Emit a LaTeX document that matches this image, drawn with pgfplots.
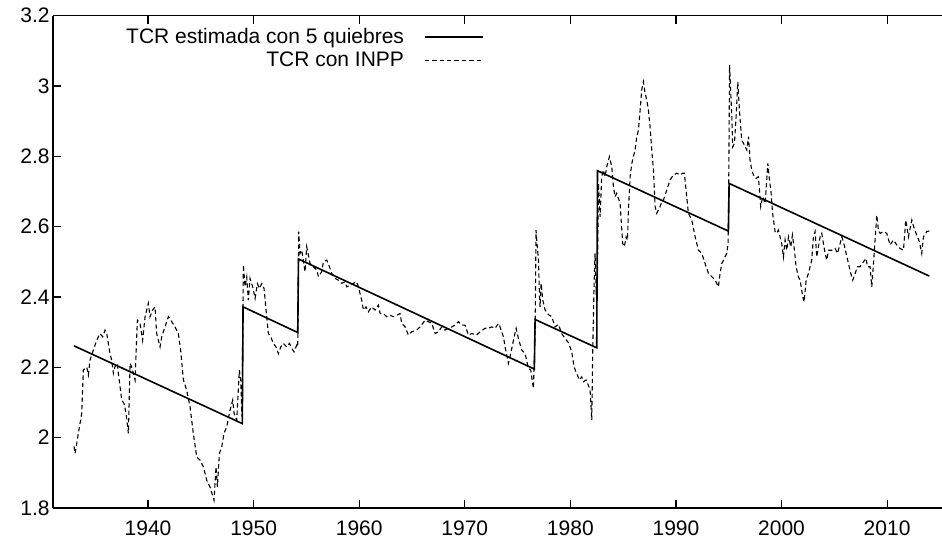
\documentclass[border=0pt]{standalone}
\usepackage{fontspec}
\setmainfont{Liberation Sans}
\usepackage{pgfplots}
\usepackage{pgfplotstable}
\pgfplotsset{compat=1.18}
\pgfplotstableread{
x y
1933.00 2.261
1948.93 2.040
1949.00 2.372
1954.18 2.299
1954.25 2.508
1976.59 2.195
1976.66 2.336
1982.50 2.2555
1982.57 2.759
1994.97 2.5875
1995.04 2.723
2014.00 2.4595
}\quiebres
\pgfplotstableread{
x y
1933.00 1.975
1933.08 1.955
1933.15 1.965
1933.40 2.012
1933.72 2.069
1933.87 2.192
1934.19 2.201
1934.35 2.178
1934.51 2.221
1934.82 2.249
1935.14 2.277
1935.45 2.296
1935.71 2.287
1935.93 2.306
1936.09 2.296
1936.40 2.239
1936.56 2.220
1936.72 2.183
1936.87 2.202
1937.10 2.211
1937.19 2.183
1937.35 2.145
1937.51 2.107
1937.73 2.097
1937.92 2.069
1938.14 2.012
1938.30 2.211
1938.45 2.201
1938.77 2.164
1938.99 2.334
1939.24 2.325
1939.49 2.277
1939.72 2.344
1940.03 2.382
1940.19 2.344
1940.44 2.363
1940.66 2.372
1940.82 2.296
1940.98 2.277
1941.14 2.258
1941.30 2.287
1941.61 2.315
1941.93 2.344
1942.24 2.330
1942.56 2.315
1942.87 2.296
1943.09 2.249
1943.35 2.164
1943.66 2.135
1943.98 2.088
1944.29 2.012
1944.61 1.945
1944.93 1.936
1945.24 1.917
1945.56 1.879
1945.87 1.860
1946.25 1.822
1946.44 1.917
1946.57 1.860
1946.76 1.955
1946.98 1.974
1947.20 2.012
1947.45 2.031
1947.77 2.078
1948.02 2.107
1948.15 2.069
1948.40 2.050
1948.65 2.192
1948.78 2.164
1948.90 2.060
1949.03 2.491
1949.19 2.429
1949.35 2.457
1949.50 2.391
1949.66 2.453
1949.91 2.429
1950.14 2.396
1950.36 2.438
1950.55 2.424
1950.77 2.438
1950.99 2.424
1951.18 2.363
1951.40 2.296
1951.62 2.287
1951.87 2.268
1952.12 2.258
1952.35 2.239
1952.57 2.258
1952.82 2.268
1953.14 2.258
1953.39 2.268
1953.61 2.254
1953.83 2.244
1954.08 2.263
1954.18 2.258
1954.27 2.586
1954.40 2.524
1954.56 2.533
1954.87 2.472
1955.03 2.543
1955.35 2.495
1955.66 2.486
1955.98 2.477
1956.14 2.458
1956.45 2.472
1956.61 2.500
1956.93 2.505
1957.18 2.486
1957.40 2.467
1957.71 2.453
1958.03 2.448
1958.35 2.439
1958.66 2.443
1958.82 2.429
1959.14 2.434
1959.45 2.439
1959.77 2.443
1959.92 2.429
1960.24 2.391
1960.40 2.363
1960.65 2.372
1960.87 2.358
1961.19 2.372
1961.50 2.363
1961.82 2.377
1961.98 2.353
1962.29 2.353
1962.61 2.344
1962.92 2.348
1963.24 2.344
1963.56 2.348
1963.87 2.353
1964.03 2.325
1964.35 2.315
1964.66 2.292
1964.98 2.301
1965.45 2.306
1965.77 2.315
1966.24 2.334
1966.56 2.330
1966.87 2.325
1967.19 2.296
1967.50 2.301
1967.82 2.315
1968.13 2.306
1968.45 2.311
1968.77 2.315
1969.08 2.320
1969.40 2.330
1969.71 2.320
1970.03 2.320
1970.34 2.292
1970.66 2.296
1971.13 2.292
1971.45 2.301
1971.92 2.311
1972.24 2.311
1972.55 2.315
1972.87 2.311
1973.19 2.325
1973.34 2.315
1973.50 2.301
1973.66 2.287
1973.82 2.258
1974.13 2.211
1974.29 2.230
1974.61 2.277
1974.86 2.311
1975.08 2.282
1975.40 2.249
1975.71 2.239
1976.03 2.197
1976.25 2.192
1976.50 2.140
1976.66 2.300
1976.75 2.590
1976.82 2.560
1976.98 2.505
1977.08 2.400
1977.13 2.372
1977.23 2.439
1977.39 2.391
1977.61 2.363
1977.92 2.350
1978.24 2.344
1978.55 2.315
1978.87 2.322
1979.18 2.296
1979.50 2.282
1979.82 2.270
1980.13 2.244
1980.35 2.201
1980.61 2.182
1980.86 2.164
1981.08 2.173
1981.24 2.159
1981.49 2.164
1981.71 2.149
1981.87 2.135
1982.03 2.050
1982.12 2.249
1982.25 2.439
1982.34 2.524
1982.44 2.420
1982.56 2.439
1982.66 2.723
1982.82 2.628
1982.97 2.742
1983.13 2.761
1983.29 2.742
1983.45 2.771
1983.70 2.799
1983.92 2.771
1984.08 2.714
1984.24 2.685
1984.39 2.695
1984.71 2.666
1984.96 2.552
1985.12 2.543
1985.28 2.571
1985.41 2.562
1985.50 2.647
1985.66 2.742
1985.82 2.780
1985.97 2.799
1986.13 2.818
1986.29 2.856
1986.45 2.875
1986.61 2.932
1986.76 2.989
1986.92 3.012
1987.08 2.979
1987.24 2.960
1987.39 2.932
1987.55 2.884
1987.71 2.818
1987.87 2.761
1988.03 2.657
1988.18 2.638
1988.34 2.647
1988.50 2.657
1988.66 2.671
1988.82 2.676
1989.13 2.704
1989.45 2.733
1989.76 2.747
1990.08 2.752
1990.39 2.747
1990.65 2.752
1990.80 2.752
1990.96 2.704
1991.18 2.638
1991.50 2.619
1991.82 2.571
1992.13 2.533
1992.45 2.524
1992.76 2.495
1993.08 2.467
1993.39 2.458
1993.71 2.448
1994.02 2.429
1994.18 2.467
1994.34 2.495
1994.50 2.505
1994.81 2.524
1994.94 2.552
1995.00 2.723
1995.08 3.060
1995.29 2.913
1995.38 2.827
1995.54 2.837
1995.70 2.913
1995.86 3.012
1996.01 2.932
1996.23 2.846
1996.49 2.832
1996.71 2.818
1996.87 2.856
1997.02 2.789
1997.18 2.761
1997.34 2.747
1997.59 2.737
1997.81 2.742
1997.91 2.704
1998.03 2.657
1998.22 2.685
1998.45 2.666
1998.60 2.733
1998.70 2.780
1998.85 2.735
1999.00 2.700
1999.15 2.640
1999.39 2.586
1999.55 2.581
1999.70 2.590
1999.86 2.571
2000.02 2.552
2000.18 2.514
2000.34 2.562
2000.50 2.533
2000.66 2.571
2000.88 2.543
2001.03 2.576
2001.19 2.543
2001.38 2.486
2001.60 2.457
2001.76 2.448
2002.01 2.401
2002.14 2.386
2002.33 2.448
2002.55 2.467
2002.86 2.505
2003.02 2.571
2003.18 2.586
2003.34 2.514
2003.50 2.543
2003.65 2.571
2003.81 2.581
2003.97 2.552
2004.13 2.524
2004.29 2.505
2004.45 2.533
2004.76 2.533
2005.08 2.538
2005.30 2.524
2005.55 2.552
2005.71 2.571
2005.86 2.557
2006.12 2.524
2006.34 2.495
2006.56 2.467
2006.75 2.448
2006.97 2.467
2007.19 2.486
2007.44 2.486
2007.76 2.500
2008.01 2.510
2008.14 2.486
2008.39 2.486
2008.55 2.429
2008.71 2.495
2008.86 2.562
2009.02 2.633
2009.18 2.590
2009.34 2.581
2009.65 2.586
2009.97 2.581
2010.28 2.548
2010.60 2.562
2010.92 2.548
2011.23 2.538
2011.55 2.533
2011.77 2.619
2012.02 2.571
2012.34 2.619
2012.56 2.595
2012.81 2.576
2013.06 2.557
2013.28 2.524
2013.44 2.571
2013.76 2.586
2014.01 2.588
}\inpp
\begin{document}
\fontsize{10.5}{12.6}\selectfont
\begin{tikzpicture}
\begin{axis}[
  scale only axis, width=444.5pt, height=246.15pt,
  xmin=1931, xmax=2015.2, ymin=1.8, ymax=3.2,
  axis x line*=box, axis y line*=left,
  tick align=inside,
  xtick={1940,1950,1960,1970,1980,1990,2000,2010},
  ytick={1.8,2,2.2,2.4,2.6,2.8,3,3.2},
  xtick pos=both,
  major tick length=4pt,
  minor tick num=0,
  tick style={line width=0.6pt, black},
  axis line style={line width=0.7pt},
  /pgf/number format/assume math mode=true,
  xticklabel style={/pgf/number format/1000 sep={}},
  xticklabel shift=2.5pt,
  yticklabel shift=-2pt,
  ticklabel style={font=\fontsize{10.5}{12.6}\selectfont},
  legend style={at={(0.4916,0.992)}, anchor=north east, draw=none, fill=none,
    font=\fontsize{10.5}{12.6}\selectfont, row sep=-1.5pt},
  legend cell align=right,
  legend plot pos=right,
  legend image code/.code={\path (0pt,0pt) (37pt,0pt); \draw[#1] (8pt,0pt) -- (37pt,0pt);},
]
\addplot[black, line width=0.8pt] table[x=x,y=y] {\quiebres};
\addlegendentry{TCR estimada con 5 quiebres}
\addplot[black, line width=0.55pt, dash pattern=on 2.2pt off 1.5pt] table[x=x,y=y] {\inpp};
\addlegendentry{TCR con INPP}
\coordinate (bl) at (rel axis cs:0,0);
\coordinate (tr) at (rel axis cs:1,1);
\end{axis}
\pgfresetboundingbox
\useasboundingbox ([xshift=-26.5pt,yshift=-17.5pt]bl) rectangle ([yshift=7.85pt]tr);
\end{tikzpicture}
\end{document}
